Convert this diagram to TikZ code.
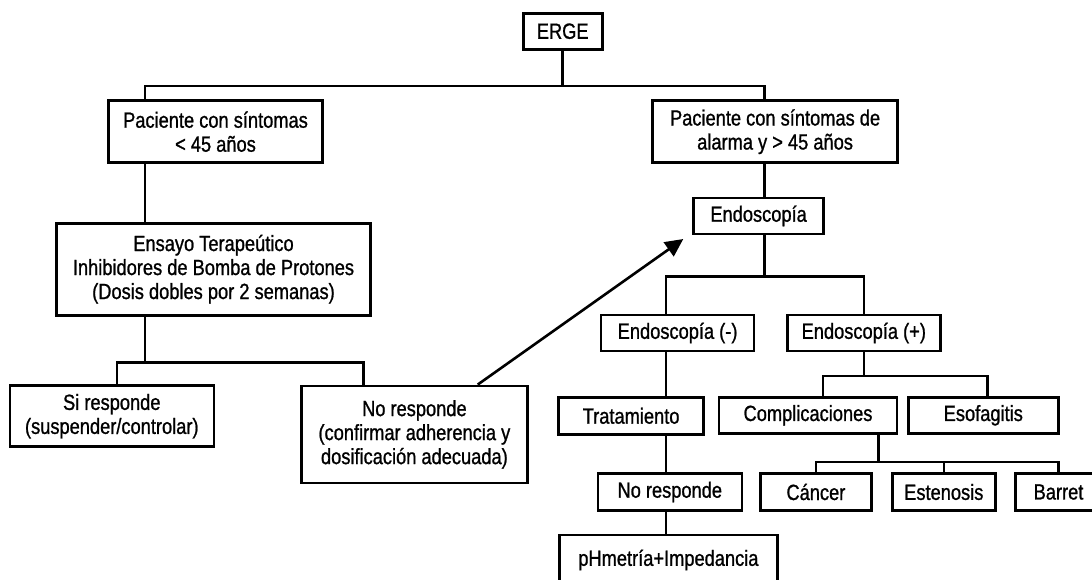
\documentclass[tikz,border=0pt]{standalone}
\usepackage{fontspec}
\setmainfont{Liberation Sans}[FakeStretch=0.83, FakeBold=1]
\usetikzlibrary{positioning, arrows.meta}

\begin{document}
\begin{tikzpicture}[
		x=1pt, y=-1pt,
		line width=2.6pt, line join=miter,
		box/.style 2 args={rectangle, draw, minimum width=#1, minimum height=#2, inner sep=0pt, align=center, font=\fontsize{22}{24}\selectfont},
		arrow/.style={-{Triangle[length=18pt, width=17pt]}}
		]
		
		\clip (0,0) rectangle (1092,579);
		
		% Trunk positions and bar levels
		\coordinate (xa) at (145,0);
		\coordinate (xb) at (764.3,0);
		\coordinate (xc) at (666.1,0);
		\coordinate (xe) at (878.5,0);
		\coordinate (xf) at (477.7,0);
		\coordinate (xs) at (117,0);
		\coordinate (xn) at (363.5,0);
		\coordinate (xg) at (822.8,0);
		\coordinate (xh) at (987.5,0);
		\coordinate (bar1) at (0,86);
		\coordinate (bar2) at (0,362.3);
		\coordinate (bar3) at (0,276.7);
		\coordinate (bar4) at (0,376);
		\coordinate (bar5) at (0,462);
		\coordinate (tip) at (683.3,239);
		
		% Top
		\node[box={79pt}{36pt}] (erge) at (562.7,31.2) {ERGE};
		
		% Second row: patient groups
		\node[box={214pt}{62pt}] (p1) at (215.5,131.7) {Paciente con síntomas\\< 45 años};
		\node[box={245pt}{62pt}] (p2) at (775.1,131.7) {Paciente con síntomas de\\alarma y > 45 años};
		
		% Left branch
		\node[box={314pt}{92pt}] (ens) at (213.5,269.2) {Ensayo Terapeútico\\Inhibidores de Bomba de Protones\\(Dosis dobles por 2 semanas)};
		\node[box={204pt}{61pt}] (si) at (111.8,416.2) {Si responde\\(suspender/controlar)};
		\node[box={226pt}{97pt}] (nr) at (414.4,434.4) {No responde\\(confirmar adherencia y\\dosificación adecuada)};
		
		% Right branch
		\node[box={130pt}{36pt}] (endo) at (758.6,215.9) {Endoscopía};
		\node[box={153pt}{36pt}] (endm) at (677.6,333) {Endoscopía (-)};
		\node[box={153pt}{36pt}] (endp) at (863.8,333) {Endoscopía (+)};
		\node[box={145pt}{37pt}] (trat) at (631.1,415.8) {Tratamiento};
		\node[box={178pt}{36pt}] (compl) at (808,415.3) {Complicaciones};
		\node[box={150pt}{36pt}] (esof) at (983.3,415.3) {Esofagitis};
		\node[box={144pt}{37pt}] (nr2) at (669.8,492) {No responde};
		\node[box={111pt}{37pt}] (canc) at (815.9,492) {Cáncer};
		\node[box={103pt}{37pt}] (esten) at (943.8,492) {Estenosis};
		\node[box={86pt}{37pt}] (barr) at (1058.5,492) {Barret};
		\node[box={218pt}{50pt}] (ph) at (668.4,560) {pHmetría+Impedancia};
		
		% Connectors
		\draw (erge.south) -- (erge.south |- bar1) -| (p1.north -| xa);
		\draw (erge.south |- bar1) -| (p2.north -| xb);
		\draw (p1.south -| xa) -- (ens.north -| xa);
		\draw (ens.south -| xa) -- (xa |- bar2) -| (si.north -| xs);
		\draw (xa |- bar2) -| (nr.north -| xn);
		\draw[arrow] (nr.north -| xf) -- (tip);
		\draw (p2.south -| xb) -- (endo.north -| xb);
		\draw (endo.south -| xb) -- (xb |- bar3) -| (endm.north -| xc);
		\draw (xb |- bar3) -| (endp.north);
		\draw (endm.south -| xc) -- (trat.north -| xc);
		\draw (trat.south -| xc) -- (nr2.north -| xc);
		\draw (nr2.south -| xc) -- (ph.north -| xc);
		\draw (endp.south) -- (endp.south |- bar4) -| (compl.north -| xg);
		\draw (endp.south |- bar4) -| (esof.north -| xh);
		\draw (compl.south -| xe) -- (xe |- bar5) -| (canc.north);
		\draw (xe |- bar5) -| (barr.north);
		\draw (esten.north) -- (esten.north |- bar5);
		
	\end{tikzpicture}
\end{document}
